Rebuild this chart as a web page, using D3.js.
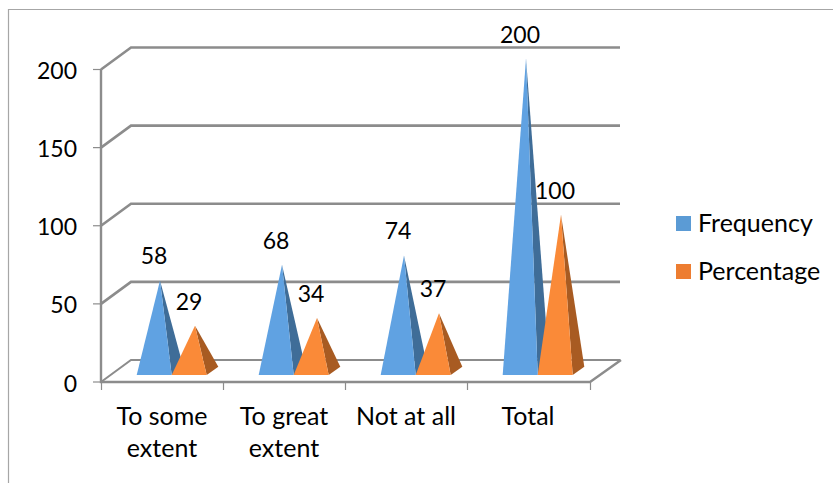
<!DOCTYPE html>
<html><head><meta charset="utf-8">
<script src="https://cdn.jsdelivr.net/npm/d3@7"></script>
<style>html,body{margin:0;padding:0;background:#fff}svg{display:block}text{font-family:Lato,"Open Sans",sans-serif;fill:#000}</style>
</head><body><svg id="c" width="833" height="483"></svg>
<script>
const categories = [["To some","extent"],["To great","extent"],["Not at all"],["Total"]];
const seriesNames = ["Frequency","Percentage"];
const frequency = [58,68,74,200];
const percentage = [29,34,37,100];
const yTicks = [0,50,100,150,200];
const frontColors = ["#60A2E2","#FA8A38"];
const sideColors = ["#3F6D98","#A85B22"];
const legendColors = ["#5B9BD5","#ED7D31"];

const svg = d3.select("#c");
const grey = "#8C8C8C";
const depth = {x:30,y:-22};
const barDepth = {x:11.6,y:-8.3};
const y = d3.scaleLinear().domain([0,200]).range([382,69.5]);
const x = d3.scaleBand().domain(d3.range(4)).range([101,589]);
const inner = d3.scaleBand().domain([0,1]).range([35.7,105.7]);
const line = d3.line();

// frame
svg.append("path").attr("d","M8.5,483V9.5H833").attr("fill","none").attr("stroke","#A6A6A6").attr("stroke-width",1.2);

// walls
yTicks.forEach(t=>{
  const yy=y(t);
  svg.append("path").attr("fill","none").attr("stroke",grey).attr("stroke-width",t===0?2:2.6)
    .attr("d",line([[101,yy],[101+depth.x,yy+depth.y],[589+depth.x+1,yy+depth.y]]));
  svg.append("line").attr("x1",93).attr("x2",101).attr("y1",yy).attr("y2",yy).attr("stroke",grey).attr("stroke-width",1.2);
  svg.append("text").attr("x",77).attr("y",yy+9.5).attr("text-anchor","end").attr("font-size",23).text(t);
});
// floor and axes
svg.append("path").attr("fill","none").attr("stroke",grey).attr("stroke-width",2.4)
  .attr("d",line([[101,y(200)],[101,y(0)],[590,y(0)],[590+depth.x+1,y(0)+depth.y]]));
d3.range(5).forEach(i=>{
  const tx=i<4?x(i):590;
  svg.append("line").attr("x1",tx+0.5).attr("x2",tx+0.5).attr("y1",y(0)).attr("y2",390).attr("stroke",grey).attr("stroke-width",1.2);
});

// pyramids
const baseY = 375;
const apexY = v => y(v) - 11;
function pyramid(cat,s,v){
  const x0 = x(cat)+inner(s), w = inner.bandwidth(), x1 = x0+w;
  const apex = [x0+w/2+barDepth.x/2, apexY(v)];
  svg.append("path").attr("fill",sideColors[s]).attr("d",line([[x1,baseY],[x1+barDepth.x,baseY+barDepth.y],apex])+"Z");
  svg.append("path").attr("fill",frontColors[s]).attr("d",line([[x0,baseY],[x1,baseY],apex])+"Z");
  return apex;
}
const labels=[];
categories.forEach((c,i)=>{
  [frequency,percentage].forEach((arr,s)=>{
    const a=pyramid(i,s,arr[i]);
    labels.push([a[0]-6,a[1]-16,arr[i]]);
  });
});
labels.forEach(l=>svg.append("text").attr("x",l[0]).attr("y",l[1]).attr("text-anchor","middle").attr("font-size",23).text(l[2]));

// category labels
categories.forEach((c,i)=>{
  c.forEach((t,j)=>svg.append("text").attr("x",x(i)+x.bandwidth()/2).attr("y",425+j*32).attr("text-anchor","middle").attr("font-size",25).text(t));
});

// legend
seriesNames.forEach((n,i)=>{
  const ly=216+i*48;
  svg.append("rect").attr("x",676).attr("y",ly).attr("width",15).attr("height",15).attr("fill",legendColors[i]);
  svg.append("text").attr("x",698).attr("y",ly+16).attr("font-size",25).text(n);
});
</script></body></html>
